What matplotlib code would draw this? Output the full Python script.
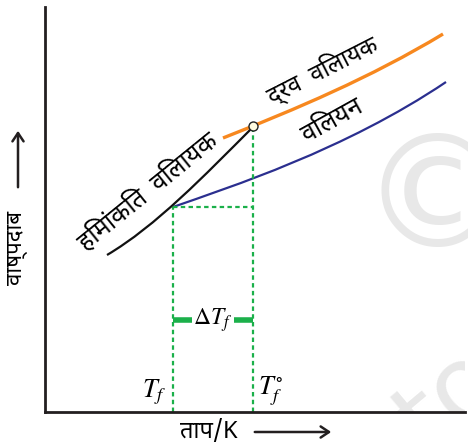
import matplotlib
matplotlib.use("Agg")
import numpy as np
from matplotlib import pyplot as plt
from matplotlib.path import Path
from matplotlib.patches import PathPatch, FancyArrowPatch

matplotlib.rcParams['font.family'] = ['Noto Sans Devanagari', 'DejaVu Sans']
matplotlib.rcParams['mathtext.fontset'] = 'stix'

# curves as cubic bezier (start, ctrl, ctrl, end)
# x = temperature, y = vapour pressure, arbitrary units
liq_x = [178, 251, 325, 398]
liq_y = [274, 303, 334, 378]

sol_x = [128, 185, 300, 401]
sol_y = [205, 225, 262, 330]

frz_x = [62, 111, 159, 208]
frz_y = [157, 186, 236, 285]

tf = 128          # freezing point of solution
tf0 = 208         # freezing point of solvent
p_tf = 205
p_tf0 = 286
dt_level = 92     # height of the delta T marker


def bezier(ax, xs, ys, **kw):
    codes = [Path.MOVETO, Path.CURVE4, Path.CURVE4, Path.CURVE4]
    p = PathPatch(Path(np.column_stack([xs, ys]), codes), fill=False, **kw)
    ax.add_patch(p)


fig = plt.figure(figsize=(4.68, 4.47), dpi=100)
ax = fig.add_axes([45 / 468, 35 / 447, 420 / 468, 405 / 447])
ax.set_xlim(0, 420)
ax.set_ylim(0, 405)
ax.set_xticks([])
ax.set_yticks([])
for s in ['top', 'right']:
    ax.spines[s].set_visible(False)
for s in ['left', 'bottom']:
    ax.spines[s].set_linewidth(2)
    ax.spines[s].set_color('#231f20')

# watermark
ax.text(392, 208, '\u00a9', fontsize=112, color='#e8e8e8', ha='center', va='center',
        family='DejaVu Sans', zorder=0)
ax.text(405, 10, 'to', fontsize=75, color='#e8e8e8', ha='center', va='center',
        rotation=40, family='DejaVu Sans', zorder=0, clip_on=True)

green = '#1bb04a'
ax.plot([tf, tf], [0, p_tf], color=green, ls=(0, (2, 1.5)), lw=1.6)
ax.plot([tf0, tf0], [0, p_tf0], color=green, ls=(0, (2, 1.5)), lw=1.6)
ax.plot([tf, tf0], [p_tf, p_tf], color=green, ls=(0, (2, 1.5)), lw=1.6)
ax.plot([tf, tf + 19], [dt_level, dt_level], color=green, lw=4, solid_capstyle='butt')
ax.plot([tf0 - 19, tf0], [dt_level, dt_level], color=green, lw=4, solid_capstyle='butt')
ax.text((tf + tf0) / 2, dt_level, r'$\Delta T_f$', fontsize=17, ha='center', va='center')

bezier(ax, liq_x, liq_y, color='#f7881f', lw=2.4, capstyle='butt')
bezier(ax, sol_x, sol_y, color='#2b2f8f', lw=1.6)
bezier(ax, frz_x, frz_y, color='#111111', lw=1.6)
ax.plot([tf0], [p_tf0], 'o', ms=6.5, mfc='#fffbe0', mec='#222222', mew=1, zorder=5)

ax.text(tf - 6, 5, r'$T_f$', fontsize=19, ha='right', va='bottom')
ax.text(tf0 + 5, 5, r'$T_f^{\circ}$', fontsize=19, ha='left', va='bottom')

ax.text(103, 220, 'हिमांकित  विलायक', fontsize=18, rotation=39, ha='center', va='center')
ax.text(277, 342, 'द्रव  विलायक', fontsize=17, rotation=27, ha='center', va='center')
ax.text(287, 291, 'विलयन', fontsize=18, rotation=29, ha='center', va='center')

# axis labels with arrows
fig.text(180 / 468, 1 - 432 / 447, 'ताप/K', fontsize=17, ha='left', va='center')
fig.patches.append(FancyArrowPatch((252 / 468, 1 - 432 / 447), (334 / 468, 1 - 432 / 447),
                                   transform=fig.transFigure, arrowstyle='->,head_length=6,head_width=4',
                                   lw=1.8, color='#231f20'))
fig.text(18 / 468, 1 - 248 / 447, 'वाष्पदाब', fontsize=16, rotation=90, ha='center', va='center')
fig.patches.append(FancyArrowPatch((18 / 468, 1 - 190 / 447), (18 / 468, 1 - 128 / 447),
                                   transform=fig.transFigure, arrowstyle='->,head_length=6,head_width=4',
                                   lw=1.8, color='#231f20'))

fig.savefig('out.png', dpi=100)
